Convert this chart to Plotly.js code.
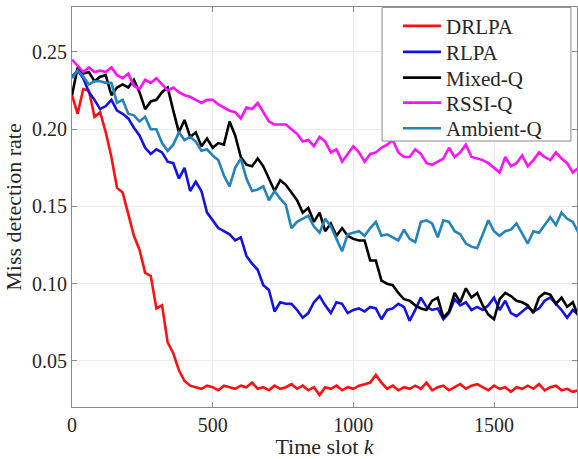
<!DOCTYPE html>
<html>
<head>
<meta charset="utf-8">
<script src="https://cdn.plot.ly/plotly-3.0.1.min.js"></script>
<style>html,body{margin:0;padding:0;background:#fff;}#chart{width:578px;height:459px;}</style>
</head>
<body>
<div id="chart"></div>
<script>
// Time slots (step 20)
const timeSlots = [];
for (let k = 0; k <= 1800; k += 20) timeSlots.push(k);

const seriesNames = ["DRLPA", "RLPA", "Mixed-Q", "RSSI-Q", "Ambient-Q"];
const seriesColors = ["#ff1010", "#1212e6", "#000000", "#ff10ff", "#2383bd"];

const drlpa = [0.222,0.210,0.226,0.225,0.208,0.211,0.198,0.182,0.162,0.159,0.145,0.131,0.122,0.107,0.105,0.084,0.086,0.062,0.055,0.044,
0.037,0.034,0.033,0.032,0.034,0.033,0.031,0.034,0.033,0.032,0.034,0.033,0.036,0.032,0.033,0.031,0.034,0.032,0.033,0.035,
0.032,0.034,0.031,0.033,0.028,0.033,0.032,0.034,0.031,0.033,0.032,0.034,0.035,0.036,0.041,0.036,0.032,0.034,0.031,0.033,
0.032,0.034,0.032,0.036,0.031,0.033,0.034,0.031,0.033,0.035,0.032,0.034,0.035,0.033,0.031,0.034,0.032,0.033,0.030,0.033,
0.032,0.034,0.032,0.035,0.031,0.033,0.034,0.031,0.032,0.030,0.031];

const rlpa = [0.234,0.238,0.233,0.224,0.219,0.213,0.215,0.219,0.212,0.210,0.207,0.201,0.196,0.188,0.184,0.187,0.185,0.179,0.178,0.168,
0.175,0.160,0.166,0.160,0.146,0.141,0.136,0.134,0.132,0.128,0.130,0.118,0.113,0.109,0.099,0.096,0.082,0.088,0.087,0.087,
0.083,0.078,0.081,0.088,0.092,0.086,0.081,0.088,0.087,0.081,0.083,0.084,0.082,0.085,0.084,0.077,0.083,0.084,0.087,0.085,
0.076,0.083,0.091,0.085,0.083,0.084,0.077,0.081,0.090,0.086,0.088,0.083,0.085,0.083,0.086,0.091,0.083,0.089,0.081,0.079,
0.082,0.085,0.082,0.084,0.089,0.091,0.087,0.083,0.078,0.083,0.080];

const mixedQ = [0.222,0.240,0.236,0.237,0.231,0.234,0.235,0.222,0.227,0.229,0.227,0.232,0.224,0.213,0.218,0.219,0.224,0.227,0.212,0.198,
0.206,0.195,0.198,0.189,0.194,0.188,0.191,0.190,0.205,0.196,0.182,0.177,0.176,0.181,0.176,0.168,0.160,0.167,0.164,0.159,
0.154,0.146,0.149,0.140,0.146,0.134,0.139,0.131,0.136,0.131,0.129,0.128,0.128,0.115,0.115,0.102,0.100,0.099,0.094,0.090,
0.089,0.086,0.084,0.083,0.089,0.091,0.078,0.082,0.094,0.088,0.097,0.091,0.094,0.086,0.080,0.077,0.090,0.094,0.092,0.089,
0.088,0.086,0.081,0.091,0.094,0.093,0.087,0.091,0.085,0.088,0.079];

const rssiQ = [0.245,0.241,0.237,0.240,0.237,0.238,0.237,0.240,0.235,0.233,0.236,0.228,0.226,0.232,0.230,0.233,0.229,0.225,0.227,0.224,
0.222,0.221,0.219,0.217,0.219,0.219,0.216,0.214,0.212,0.211,0.207,0.214,0.213,0.217,0.211,0.205,0.203,0.203,0.203,0.200,
0.197,0.192,0.193,0.189,0.195,0.192,0.185,0.187,0.179,0.184,0.189,0.185,0.179,0.184,0.185,0.188,0.190,0.193,0.185,0.182,
0.182,0.187,0.184,0.178,0.177,0.179,0.181,0.188,0.182,0.185,0.190,0.182,0.181,0.180,0.178,0.175,0.172,0.182,0.176,0.178,
0.183,0.176,0.180,0.185,0.182,0.180,0.185,0.181,0.178,0.172,0.175];

const ambientQ = [0.233,0.238,0.234,0.229,0.231,0.231,0.230,0.230,0.217,0.219,0.210,0.209,0.205,0.208,0.200,0.200,0.191,0.186,0.190,0.198,
0.193,0.195,0.192,0.186,0.187,0.183,0.180,0.170,0.163,0.175,0.181,0.168,0.160,0.161,0.163,0.154,0.160,0.155,0.151,0.136,
0.140,0.142,0.144,0.137,0.133,0.142,0.137,0.129,0.121,0.132,0.133,0.134,0.131,0.136,0.140,0.131,0.132,0.130,0.128,0.135,
0.129,0.127,0.140,0.141,0.139,0.130,0.141,0.140,0.134,0.132,0.126,0.124,0.123,0.132,0.141,0.134,0.131,0.134,0.135,0.139,
0.132,0.126,0.134,0.133,0.138,0.143,0.138,0.146,0.142,0.140,0.133];

const allSeries = [drlpa, rlpa, mixedQ, rssiQ, ambientQ];

const xTickVals = [0, 500, 1000, 1500];
const yTickVals = [0.05, 0.10, 0.15, 0.20, 0.25];
const yTickText = ["0.05", "0.10", "0.15", "0.20", "0.25"];

const serif = "Liberation Serif";
const legendIds = ["legend", "legend2", "legend3", "legend4", "legend5"];
// legend entry centres (paper fraction of plot height)
const legendY = [0.952, 0.887, 0.8225, 0.76, 0.696];

const traces = seriesNames.map((name, i) => ({
  x: timeSlots,
  y: allSeries[i],
  name: name,
  type: "scatter",
  mode: "lines",
  legend: legendIds[i],
  line: {color: seriesColors[i], width: 2.6}
}));

function axisBase() {
  return {
    showline: true, mirror: "ticks", linecolor: "#8a8a8a", linewidth: 1,
    ticks: "inside", ticklen: 5, tickcolor: "#8a8a8a",
    showgrid: true, gridcolor: "#ececec", gridwidth: 1, zeroline: false,
    tickfont: {family: serif, size: 20, color: "#262626"}
  };
}

const layout = {
  width: 578, height: 459,
  margin: {l: 72, r: 1, t: 7, b: 52},
  paper_bgcolor: "#ffffff", plot_bgcolor: "#ffffff",
  showlegend: true,
  font: {family: serif, color: "#262626"},
  xaxis: Object.assign(axisBase(), {
    range: [0, 1795], tickvals: xTickVals,
    title: {text: "Time slot <i>k</i>", font: {family: serif, size: 22, color: "#262626"}, standoff: 2}
  }),
  yaxis: Object.assign(axisBase(), {
    range: [0.0202, 0.2791], tickvals: yTickVals, ticktext: yTickText,
    title: {text: "Miss detection rate", font: {family: serif, size: 22, color: "#262626"}, standoff: 4}
  }),
  shapes: [{
    type: "rect", xref: "paper", yref: "paper", layer: "above",
    x0: 0.614, x1: 0.988, y0: 0.665, y1: 0.999,
    line: {color: "#8a8a8a", width: 1}, fillcolor: "#ffffff"
  }]
};

legendIds.forEach((id, i) => {
  layout[id] = {
    x: 0.6455, xanchor: "left", y: legendY[i], yanchor: "middle",
    bgcolor: "rgba(0,0,0,0)", borderwidth: 0,
    font: {family: serif, size: 21, color: "#262626"},
    itemwidth: 38
  };
});

Plotly.newPlot("chart", traces, layout, {displayModeBar: false, staticPlot: true});
</script>
</body>
</html>
